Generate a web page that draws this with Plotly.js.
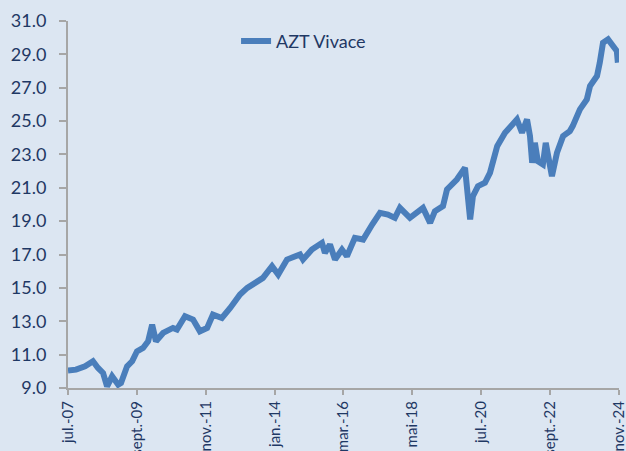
<!DOCTYPE html>
<html>
<head>
<meta charset="utf-8">
<script src="https://cdn.plot.ly/plotly-3.0.1.min.js"></script>
<style>
  html, body { margin: 0; padding: 0; background: #dce6f2; }
  #chart { width: 626px; height: 451px; }
</style>
</head>
<body>
<div id="chart"></div>
<script>
// Series: AZT Vivace
const dates = [
  '2007-07-01','2007-10-01','2008-01-13','2008-04-13','2008-06-10','2008-08-07','2008-09-22','2008-11-19',
  '2009-01-28','2009-03-01','2009-05-10','2009-07-07','2009-09-01','2009-11-10','2010-01-07','2010-02-22',
  '2010-04-07','2010-06-28','2010-10-19','2010-12-04','2011-03-07','2011-06-07','2011-08-25','2011-11-16',
  '2012-01-22','2012-05-04','2012-08-07','2012-11-28','2013-02-19','2013-08-19','2013-12-01','2014-02-10',
  '2014-05-22','2014-10-19','2014-11-22','2015-03-04','2015-06-28','2015-08-01','2015-09-28','2015-11-25',
  '2016-02-13','2016-04-10','2016-07-10','2016-10-13','2017-01-25','2017-04-25','2017-07-25','2017-10-13',
  '2017-12-10','2018-04-04','2018-09-01','2018-11-22','2019-01-16','2019-04-19','2019-06-04','2019-09-25',
  '2019-12-28','2020-02-25','2020-03-28','2020-05-25','2020-08-13','2020-10-10','2021-01-01','2021-04-01',
  '2021-08-16','2021-10-13','2021-12-10','2022-01-13','2022-02-07','2022-03-10','2022-04-13','2022-06-10',
  '2022-07-13','2022-09-22','2022-11-19','2023-01-28','2023-04-16','2023-05-19','2023-08-10','2023-10-28',
  '2023-12-04','2024-02-22','2024-03-25','2024-05-01','2024-06-28','2024-08-22','2024-10-07','2024-10-19'
];
const values = [
  10.05,10.1,10.3,10.6,10.2,9.9,9.1,9.7,
  9.2,9.3,10.3,10.6,11.2,11.4,11.8,12.8,
  11.8,12.3,12.6,12.5,13.3,13.1,12.4,12.6,
  13.4,13.2,13.8,14.6,15.0,15.6,16.3,15.8,
  16.7,17.0,16.7,17.3,17.7,17.1,17.6,16.7,
  17.3,16.9,18.0,17.9,18.8,19.5,19.4,19.2,
  19.8,19.2,19.8,18.9,19.6,19.9,20.9,21.5,
  22.2,19.1,20.5,21.1,21.3,21.9,23.5,24.3,
  25.1,24.3,25.1,24.1,22.5,23.7,22.6,22.4,
  23.7,21.7,23.1,24.1,24.4,24.7,25.7,26.3,
  27.1,27.7,28.5,29.7,29.9,29.5,29.2,28.5
];
const seriesName = 'AZT Vivace';

// X axis ticks
const tickDates = ['2007-07-01','2009-09-01','2011-11-01','2014-01-01','2016-03-01','2018-05-01','2020-07-01','2022-09-01','2024-11-01'];
const tickLabels = ['jul.-07','sept.-09','nov.-11','jan.-14','mar.-16','mai-18','jul.-20','sept.-22','nov.-24'];

// Y axis ticks
const yTicks = [9,11,13,15,17,19,21,23,25,27,29,31];

const textColor = '#1f3864';
const axisColor = '#a6a6a6';
const bg = '#dce6f2';

const trace = {
  x: dates,
  y: values,
  type: 'scatter',
  mode: 'lines',
  name: seriesName,
  line: { color: '#4a7ebb', width: 6 },
  showlegend: true
};

const layout = {
  width: 626,
  height: 451,
  paper_bgcolor: bg,
  plot_bgcolor: bg,
  margin: { l: 68, r: 7, t: 21, b: 63, pad: 0 },
  font: { family: 'Lato, "Liberation Sans", sans-serif', color: textColor, size: 16 },
  showlegend: true,
  legend: {
    x: 0.305, xanchor: 'left',
    y: 0.945, yanchor: 'middle',
    bgcolor: 'rgba(0,0,0,0)',
    font: { size: 18, color: textColor, family: 'Lato, "Liberation Sans", sans-serif' }
  },
  xaxis: {
    type: 'date',
    range: ['2007-07-01', '2024-11-01'],
    tickmode: 'array',
    tickvals: tickDates,
    ticktext: tickLabels,
    tickangle: -90,
    ticks: 'outside',
    ticklen: 5,
    tickwidth: 2,
    tickcolor: axisColor,
    showline: true,
    linecolor: axisColor,
    linewidth: 2,
    showgrid: false,
    zeroline: false,
    automargin: false,
    ticklabeloverflow: 'allow',
    tickfont: { size: 15, color: textColor }
  },
  yaxis: {
    range: [9, 31],
    tickmode: 'array',
    tickvals: yTicks,
    tickformat: '.1f',
    ticks: 'outside',
    ticklen: 7,
    tickwidth: 2,
    tickcolor: axisColor,
    showline: true,
    linecolor: axisColor,
    linewidth: 2,
    showgrid: false,
    zeroline: false,
    automargin: false,
    ticklabelstandoff: 9,
    tickfont: { size: 18, color: textColor }
  }
};

Plotly.newPlot('chart', [trace], layout, { staticPlot: true, displayModeBar: false });
</script>
</body>
</html>
